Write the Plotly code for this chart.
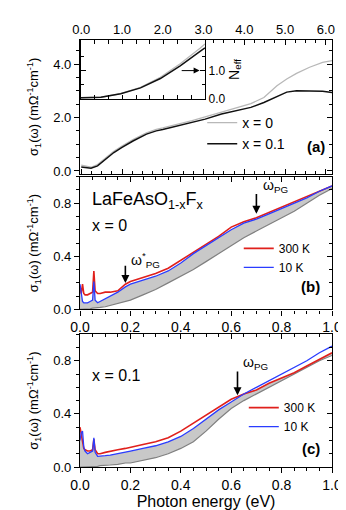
import numpy as np
import plotly.graph_objects as go

# panel (a): sigma_1 over wide range, x = 0 and x = 0.1
energy_a = [0.0, 0.1, 0.24, 0.4, 0.56, 0.8, 1.0, 1.28, 1.6, 1.84, 2.0, 2.4, 2.72, 3.04,
            3.44, 3.84, 4.16, 4.48, 4.8, 5.04, 5.28, 5.6, 5.92, 6.15]
sigma_a_x0 = [0.22, 0.18, 0.14, 0.24, 0.45, 0.74, 0.93, 1.18, 1.43, 1.56, 1.61, 1.75, 1.88, 2.02,
              2.2, 2.38, 2.52, 2.75, 3.19, 3.44, 3.65, 3.88, 4.06, 4.13]
sigma_a_x01 = [0.15, 0.12, 0.1, 0.19, 0.4, 0.69, 0.88, 1.13, 1.38, 1.5, 1.55, 1.69, 1.81, 1.94,
               2.13, 2.28, 2.38, 2.56, 2.8, 2.95, 3.0, 3.0, 2.98, 2.94]

# inset: N_eff
energy_inset = [0.0, 0.48, 0.96, 1.44, 1.92, 2.4, 2.88, 3.0]
neff_x0 = [0.03, 0.05, 0.18, 0.4, 0.75, 1.23, 1.78, 1.93]
neff_x01 = [0.03, 0.05, 0.17, 0.38, 0.71, 1.16, 1.67, 1.79]

# panels (b) and (c): low-energy sigma_1 at 300 K and 10 K
energy_bc = [0.0, 0.005, 0.01, 0.015, 0.02, 0.03, 0.04, 0.05, 0.055, 0.06, 0.07, 0.08, 0.1,
             0.12, 0.15, 0.18, 0.2, 0.25, 0.3, 0.35, 0.4, 0.45, 0.5, 0.55, 0.6, 0.65, 0.7,
             0.75, 0.8, 0.85, 0.9, 0.95, 1.0]
red_b = [0.17, 0.12, 0.19, 0.12, 0.11, 0.11, 0.12, 0.13, 0.29, 0.14, 0.12, 0.12, 0.13, 0.13,
         0.14, 0.19, 0.21, 0.24, 0.27, 0.31, 0.37, 0.43, 0.49, 0.55, 0.62, 0.66, 0.69, 0.73,
         0.77, 0.81, 0.85, 0.89, 0.93]
blue_b = [0.19, 0.1, 0.06, 0.05, 0.05, 0.05, 0.06, 0.07, 0.21, 0.07, 0.05, 0.06, 0.08, 0.1,
          0.13, 0.17, 0.19, 0.22, 0.25, 0.29, 0.35, 0.42, 0.48, 0.54, 0.6, 0.65, 0.68, 0.72,
          0.76, 0.8, 0.84, 0.89, 0.93]
base_b = [0.0, 0.0, 0.0, 0.0, 0.0, 0.005, 0.005, 0.01, 0.01, 0.01, 0.01, 0.015, 0.02, 0.03,
          0.04, 0.06, 0.07, 0.11, 0.15, 0.2, 0.25, 0.3, 0.36, 0.42, 0.48, 0.54, 0.59, 0.64,
          0.69, 0.74, 0.8, 0.86, 0.91]
red_c = [0.3, 0.24, 0.17, 0.14, 0.13, 0.12, 0.12, 0.13, 0.21, 0.13, 0.1, 0.1, 0.11, 0.12,
         0.13, 0.14, 0.15, 0.17, 0.19, 0.22, 0.27, 0.33, 0.39, 0.45, 0.51, 0.55, 0.58, 0.63,
         0.67, 0.71, 0.76, 0.81, 0.86]
blue_c = [0.2, 0.26, 0.27, 0.15, 0.12, 0.1, 0.11, 0.12, 0.22, 0.11, 0.08, 0.08, 0.085, 0.09,
          0.1, 0.11, 0.12, 0.14, 0.16, 0.19, 0.23, 0.29, 0.36, 0.43, 0.49, 0.55, 0.6, 0.65,
          0.7, 0.75, 0.8, 0.86, 0.91]
base_c = [0.0, 0.0, 0.0, 0.0, 0.0, 0.0, 0.0, 0.005, 0.005, 0.005, 0.005, 0.01, 0.01, 0.015,
          0.02, 0.03, 0.03, 0.05, 0.07, 0.1, 0.14, 0.19, 0.27, 0.36, 0.44, 0.5, 0.55, 0.6,
          0.65, 0.7, 0.75, 0.8, 0.84]

FONT = "Arial, Liberation Sans, sans-serif"
YTITLE = "σ<sub>1</sub>(ω) (mΩ<sup>-1</sup>cm<sup>-1</sup>)"
RED = "#e0201c"
BLUE = "#2a3cff"
FILL = "#c8c8c8"
BASE = "#808080"

fig = go.Figure()


def dummy(xa, ya):
    fig.add_trace(go.Scatter(x=[None], y=[None], xaxis=xa, yaxis=ya, showlegend=False,
                             hoverinfo="skip"))


# (a)
fig.add_trace(go.Scatter(x=energy_a, y=sigma_a_x0, mode="lines", name="x = 0",
                         line=dict(color="#b8b8b8", width=1.3), legend="legend"))
fig.add_trace(go.Scatter(x=energy_a, y=sigma_a_x01, mode="lines", name="x = 0.1",
                         line=dict(color="#111111", width=1.5), legend="legend"))
dummy("x", "y2")

# inset
fig.add_trace(go.Scatter(x=energy_inset, y=neff_x0, mode="lines", showlegend=False,
                         line=dict(color="#b8b8b8", width=1.3), xaxis="x2", yaxis="y3"))
fig.add_trace(go.Scatter(x=energy_inset, y=neff_x01, mode="lines", showlegend=False,
                         line=dict(color="#111111", width=1.5), xaxis="x2", yaxis="y3"))


def low_panel(xa, ya, red, blue, base, legend):
    upper = np.minimum(red, blue)
    fig.add_trace(go.Scatter(x=energy_bc, y=base, mode="lines", showlegend=False,
                             line=dict(color=BASE, width=1.2), xaxis=xa, yaxis=ya))
    fig.add_trace(go.Scatter(x=energy_bc, y=upper, mode="lines", showlegend=False,
                             line=dict(width=0), fill="tonexty", fillcolor=FILL,
                             xaxis=xa, yaxis=ya))
    fig.add_trace(go.Scatter(x=energy_bc, y=red, mode="lines", name="300 K",
                             line=dict(color=RED, width=1.6), xaxis=xa, yaxis=ya,
                             legend=legend))
    fig.add_trace(go.Scatter(x=energy_bc, y=blue, mode="lines", name="10 K",
                             line=dict(color=BLUE, width=1.3), xaxis=xa, yaxis=ya,
                             legend=legend))


low_panel("x3", "y4", red_b, blue_b, base_b, "legend2")
dummy("x4", "y4")
dummy("x3", "y5")
low_panel("x5", "y6", red_c, blue_c, base_c, "legend3")
dummy("x6", "y6")
dummy("x5", "y7")

ax = dict(showline=True, linecolor="black", linewidth=1.3, showgrid=False, zeroline=False,
          tickcolor="black", ticklen=5, tickwidth=1, tickfont=dict(size=13))


def minor(d, where):
    return dict(dtick=d, ticks=where, ticklen=3, tickcolor="black", showgrid=False)


dom_a = [0.687, 1.0]
dom_b = [0.369, 0.68]
dom_c = [0.0, 0.311]

fig.update_layout(
    xaxis=dict(ax, domain=[0, 1], anchor="y", side="top", range=[-0.03, 6.15], tick0=0,
               dtick=1, tickformat=".1f", ticks="inside", mirror="ticks",
               minor=minor(0.25, "inside")),
    yaxis=dict(ax, domain=dom_a, anchor="x", range=[-0.1, 4.9], tick0=0, dtick=2,
               tickformat=".1f", ticks="outside", mirror=True, minor=minor(0.5, "outside"),
               title=dict(text=YTITLE, font=dict(size=13), standoff=11)),
    yaxis2=dict(ax, overlaying="y", side="right", anchor="x", range=[-0.1, 4.9], tick0=0,
                dtick=2, ticks="inside", showticklabels=False, minor=minor(0.5, "inside")),
    xaxis2=dict(ax, domain=[0.004, 0.496], anchor="y3", range=[0, 3.0], tick0=0,
                dtick=1 / 3, ticks="inside", ticklen=4, mirror="ticks", showticklabels=False),
    yaxis3=dict(ax, domain=[0.862, 1.0], anchor="x2", side="right", range=[-0.01, 2.07],
                tickvals=[0, 1], ticktext=["0.0", "1.0"], ticks="inside", mirror="ticks",
                tickfont=dict(size=12), minor=dict(minor(0.5, "inside"), tickvals=[0.5, 1.5]),
                title=dict(text="N<sub>eff</sub>", font=dict(size=14), standoff=2)),
    xaxis3=dict(ax, domain=[0, 1], anchor="y4", range=[0, 1], tick0=0, dtick=0.2,
                tickformat=".1f", ticks="outside", tickfont=dict(size=14),
                minor=minor(0.05, "outside")),
    yaxis4=dict(ax, domain=dom_b, anchor="x3", range=[0, 1.0], tick0=0, dtick=0.4,
                tickformat=".1f", ticks="outside", mirror=True, minor=minor(0.1, "outside"),
                title=dict(text=YTITLE, font=dict(size=13), standoff=11)),
    xaxis4=dict(ax, overlaying="x3", side="top", anchor="y4", range=[0, 1], tick0=0,
                dtick=0.2, ticks="inside", showticklabels=False, minor=minor(0.05, "inside")),
    yaxis5=dict(ax, overlaying="y4", side="right", anchor="x3", range=[0, 1.0], tick0=0,
                dtick=0.4, ticks="inside", showticklabels=False, minor=minor(0.1, "inside")),
    xaxis5=dict(ax, domain=[0, 1], anchor="y6", range=[0, 1], tick0=0, dtick=0.2,
                tickformat=".1f", ticks="outside", tickfont=dict(size=14),
                minor=minor(0.05, "outside"),
                title=dict(text="Photon energy (eV)", font=dict(size=16), standoff=2)),
    yaxis6=dict(ax, domain=dom_c, anchor="x5", range=[0, 1.0], tick0=0, dtick=0.4,
                tickformat=".1f", ticks="outside", mirror=True, minor=minor(0.1, "outside"),
                title=dict(text=YTITLE, font=dict(size=13), standoff=11)),
    xaxis6=dict(ax, overlaying="x5", side="top", anchor="y6", range=[0, 1], tick0=0,
                dtick=0.2, ticks="inside", showticklabels=False, minor=minor(0.05, "inside")),
    yaxis7=dict(ax, overlaying="y6", side="right", anchor="x5", range=[0, 1.0], tick0=0,
                dtick=0.4, ticks="inside", showticklabels=False, minor=minor(0.1, "inside")),
    legend=dict(x=0.485, y=0.843, xanchor="left", yanchor="top", bgcolor="rgba(0,0,0,0)",
                font=dict(size=14), tracegroupgap=0, traceorder="normal"),
    legend2=dict(x=0.63, y=0.546, xanchor="left", yanchor="top", bgcolor="rgba(0,0,0,0)",
                 font=dict(size=12), tracegroupgap=0, traceorder="normal"),
    legend3=dict(x=0.65, y=0.173, xanchor="left", yanchor="top", bgcolor="rgba(0,0,0,0)",
                 font=dict(size=12), tracegroupgap=0, traceorder="normal"),
    width=346,
    height=510,
    margin=dict(l=72, r=16, t=32, b=50),
    paper_bgcolor="white",
    plot_bgcolor="white",
    font=dict(family=FONT, color="black", size=13),
)

annots = [
    dict(text="<b>(a)</b>", xref="x domain", yref="y domain", x=0.98, y=0.2,
         xanchor="right", yanchor="middle", font=dict(size=15)),
    dict(text="<b>(b)</b>", xref="x3 domain", yref="y4 domain", x=0.96, y=0.17,
         xanchor="right", yanchor="middle", font=dict(size=15)),
    dict(text="<b>(c)</b>", xref="x5 domain", yref="y6 domain", x=0.96, y=0.14,
         xanchor="right", yanchor="middle", font=dict(size=15)),
    dict(text="LaFeAsO<sub>1-x</sub>F<sub>x</sub>", xref="x3 domain", yref="y4 domain",
         x=0.04, y=0.82, xanchor="left", yanchor="middle", font=dict(size=18)),
    dict(text="x = 0", xref="x3 domain", yref="y4 domain", x=0.04, y=0.63,
         xanchor="left", yanchor="middle", font=dict(size=16)),
    dict(text="x = 0.1", xref="x5 domain", yref="y6 domain", x=0.04, y=0.69,
         xanchor="left", yanchor="middle", font=dict(size=16)),
    dict(text="ω<sup>*</sup><sub>PG</sub>", xref="x3", yref="y4", x=0.195, y=0.37,
         xanchor="left", yanchor="middle", font=dict(size=14)),
    dict(text="ω<sub>PG</sub>", xref="x3", yref="y4", x=0.72, y=0.93,
         xanchor="left", yanchor="middle", font=dict(size=14)),
    dict(text="ω<sub>PG</sub>", xref="x5", yref="y6", x=0.64, y=0.78,
         xanchor="left", yanchor="middle", font=dict(size=14)),
]
for a in annots:
    a["showarrow"] = False

arrows = [
    ("x3", "y4", 0.18, 0.2, 0.18, 0.34, 1.6, 1.0),
    ("x3", "y4", 0.70, 0.72, 0.70, 0.88, 1.6, 1.0),
    ("x5", "y6", 0.625, 0.54, 0.625, 0.73, 1.6, 1.0),
    ("x2", "y3", 2.87, 0.99, 2.4, 0.99, 1.0, 1.2),
]
for xr, yr, x, y, tx, ty, w, s in arrows:
    annots.append(dict(text="", xref=xr, yref=yr, x=x, y=y, axref=xr, ayref=yr, ax=tx, ay=ty,
                       showarrow=True, arrowhead=2, arrowsize=s, arrowwidth=w,
                       arrowcolor="black"))
fig.update_layout(annotations=annots)

fig.write_html("out.html")
